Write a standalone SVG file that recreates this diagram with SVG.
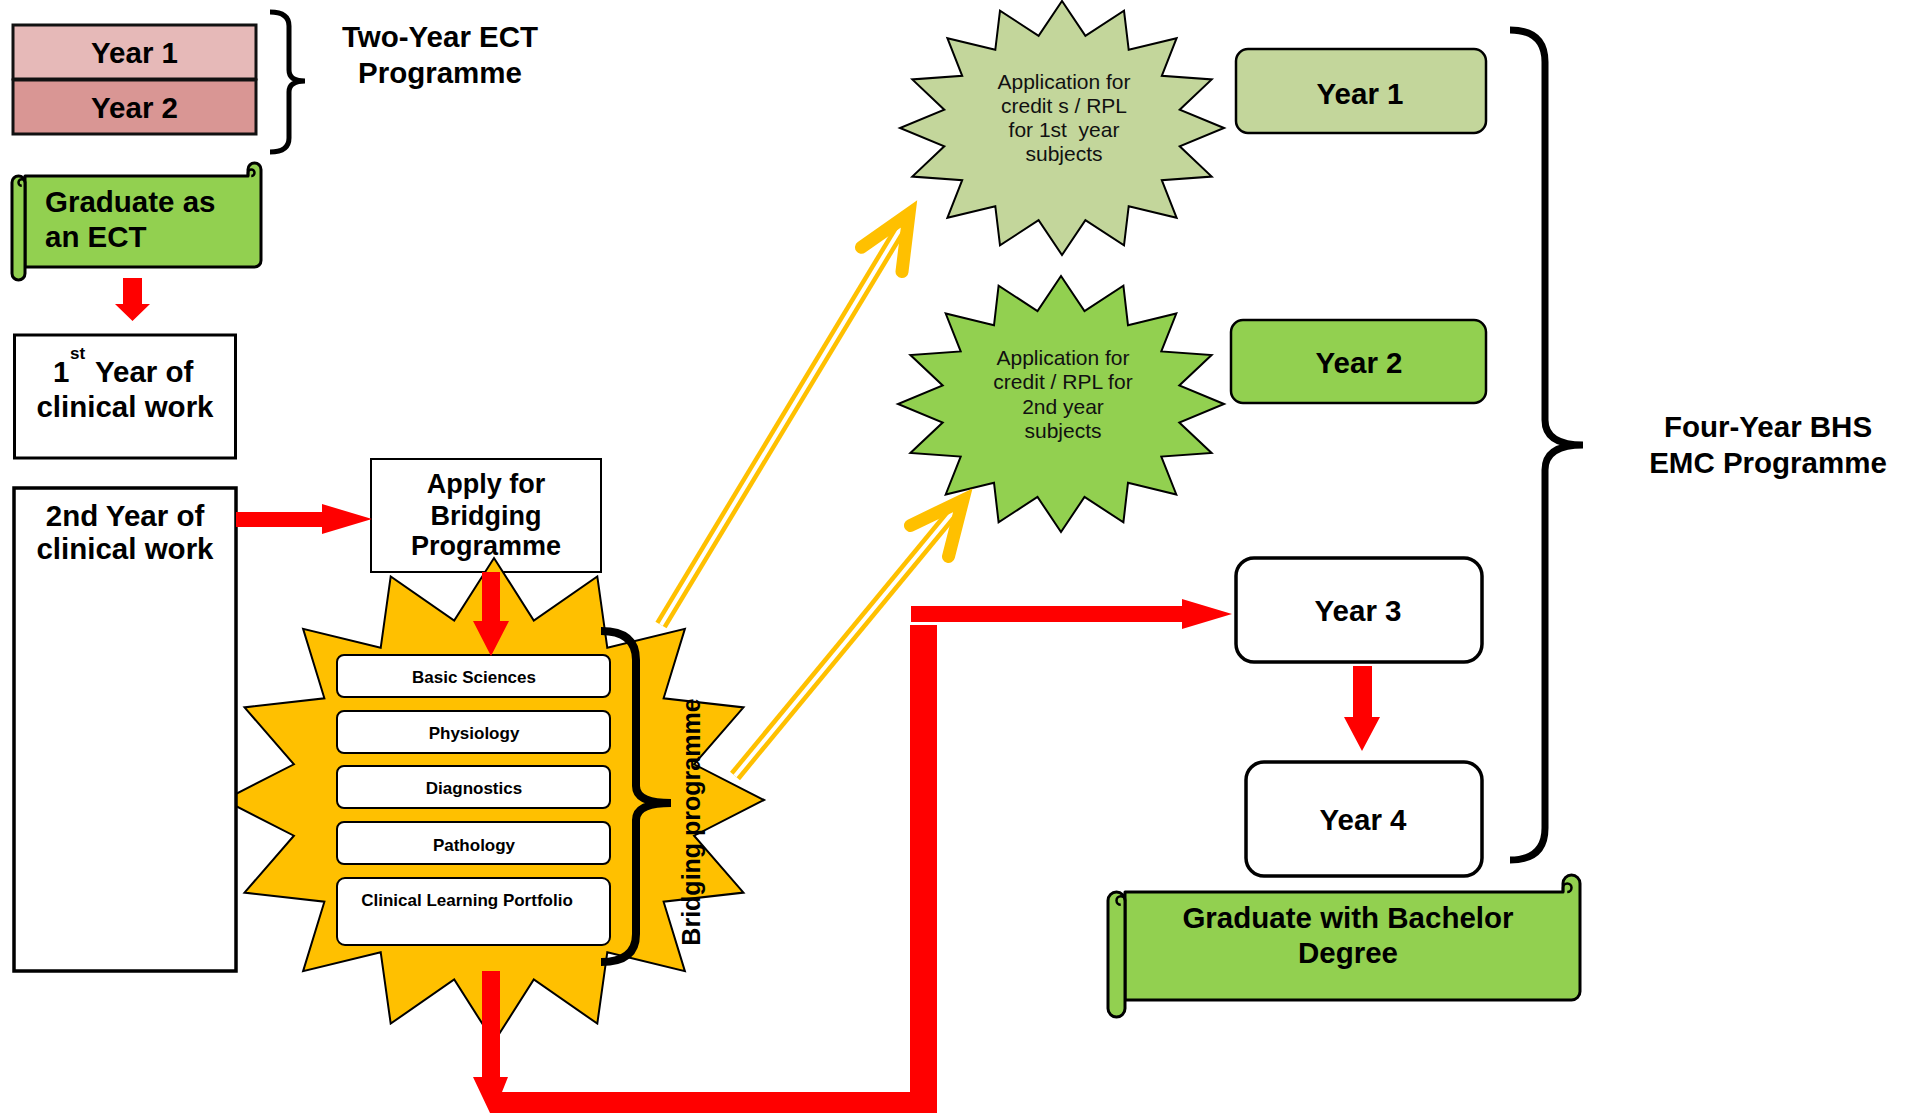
<svg xmlns="http://www.w3.org/2000/svg" width="1910" height="1115" viewBox="0 0 1910 1115">
  <style>
    .t { font-family: "Liberation Sans", Arial, sans-serif; font-weight: bold; fill: #000; }
    .big { font-size: 29.5px; }
    .mid { font-size: 27px; }
    .sm { font-size: 17px; }
    .reg { font-family: "Liberation Sans", Arial, sans-serif; font-weight: normal; font-size: 21px; fill: #111; }
    .c { text-anchor: middle; }
    .box { fill: #fff; stroke: #000; }
    .sub { fill: #fff; stroke: #000; stroke-width: 2; }
    .brace { fill: none; stroke: #000; stroke-linecap: butt; }
    .scroll { fill: #92D050; stroke: #000; stroke-width: 3; stroke-linejoin: round; }
    .curl { fill: none; stroke: #000; stroke-width: 2.5; }
    .red { fill: #FF0000; }
    .dbl { stroke: #FFC000; stroke-width: 13; fill: none; }
    .gap { stroke: #fff; stroke-width: 4; fill: none; }
    .head { stroke: #FFC000; stroke-width: 13; fill: none; stroke-linecap: round; stroke-linejoin: miter; }
    .star { stroke: #000; stroke-width: 2; stroke-linejoin: miter; }
  </style>

  <!-- Two-year ECT programme -->
  <g id="ect-year1">
    <rect x="13" y="25" width="243" height="54" fill="#E6B9B8" stroke="#111" stroke-width="3"/>
    <text class="t big c" x="134.5" y="63">Year 1</text>
  </g>
  <g id="ect-year2">
    <rect x="13" y="80" width="243" height="54" fill="#D99694" stroke="#111" stroke-width="3"/>
    <text class="t big c" x="134.5" y="118">Year 2</text>
  </g>
  <g id="ect-brace">
    <path class="brace" stroke-width="5" d="M 270,12 Q 289,12 289,26 V 70 Q 289,81 305,81 Q 289,81 289,92 V 138 Q 289,152 270,152"/>
    <text class="t big c" x="440" y="47">Two-Year ECT</text>
    <text class="t big c" x="440" y="83">Programme</text>
  </g>

  <g id="graduate-ect">
    <path class="scroll" d="M 25,176 H 248 V 169.5 A 6.5 6.5 0 0 1 261,169.5 V 260.5 A 6.5 6.5 0 0 1 254.5,267 H 25 Z"/>
    <path class="curl" d="M 248,176 V 172.75 A 3.25 3.25 0 0 1 254.5,172.75 A 3.25 3.25 0 0 1 251.25,176"/>
    <path class="scroll" d="M 12,182.5 V 273.5 A 6.5 6.5 0 0 0 25,273.5 V 182.5 A 6.5 6.5 0 0 0 12,182.5 Z"/>
    <path class="curl" d="M 25,182.5 A 3.25 3.25 0 0 0 18.5,182.5 A 3.25 3.25 0 0 0 21.75,185.75"/>
    <text class="t big" x="45" y="212">Graduate as</text>
    <text class="t big" x="45" y="247">an ECT</text>
  </g>

  <g id="clinical-year1">
    <rect class="box" x="14.5" y="335" width="221" height="123" stroke-width="3"/>
    <text class="t big" x="53" y="382">1</text>
    <text class="t" font-size="17" x="70" y="359">st</text>
    <text class="t big" x="95" y="382">Year of</text>
    <text class="t big c" x="125" y="417">clinical work</text>
  </g>

  <g id="apply-bridging">
    <rect class="box" x="371" y="459" width="230" height="113" stroke-width="2"/>
    <text class="t mid c" x="486" y="493">Apply for</text>
    <text class="t mid c" x="486" y="525">Bridging</text>
    <text class="t mid c" x="486" y="555">Programme</text>
  </g>

  <!-- Bridging programme burst with its modules -->
  <g id="bridging-programme">
    <polygon class="star" fill="#FFC000" points="764,800 694.1,764.3 743.5,707.4 663.6,698.3 684.9,628.9 607.3,647.8 597.3,576.4 533.8,620.5 494,558 454.2,620.5 390.7,576.4 380.7,647.8 303.1,628.9 324.4,698.3 244.5,707.4 293.9,764.3 224,800 293.9,835.7 244.5,892.6 324.4,901.7 303.1,971.1 380.7,952.2 390.7,1023.6 454.2,979.5 494,1042 533.8,979.5 597.3,1023.6 607.3,952.2 684.9,971.1 663.6,901.7 743.5,892.6 694.1,835.7"/>
    <g id="module-basic-sciences">
      <rect class="sub" x="337" y="655" width="273" height="42" rx="7"/>
      <text class="t sm c" x="474" y="683">Basic Sciences</text>
    </g>
    <g id="module-physiology">
      <rect class="sub" x="337" y="711" width="273" height="42" rx="7"/>
      <text class="t sm c" x="474" y="739">Physiology</text>
    </g>
    <g id="module-diagnostics">
      <rect class="sub" x="337" y="766" width="273" height="42" rx="7"/>
      <text class="t sm c" x="474" y="794">Diagnostics</text>
    </g>
    <g id="module-pathology">
      <rect class="sub" x="337" y="822" width="273" height="42" rx="7"/>
      <text class="t sm c" x="474" y="851">Pathology</text>
    </g>
    <g id="module-portfolio">
      <rect class="sub" x="337" y="878" width="273" height="67" rx="8"/>
      <text class="t sm c" x="467" y="906">Clinical Learning Portfolio</text>
    </g>
    <path class="brace" stroke-width="8" d="M 601,631 Q 636,631 636,660 V 786 Q 636,803 671,803 Q 636,803 636,820 V 934 Q 636,962 601,962"/>
    <text class="t c" font-size="25" transform="translate(700,822) rotate(-90)">Bridging programme</text>
  </g>

  <g id="clinical-year2">
    <rect class="box" x="14" y="488" width="222" height="483" stroke-width="3.5"/>
    <text class="t big c" x="125" y="526">2nd Year of</text>
    <text class="t big c" x="125" y="559">clinical work</text>
  </g>

  <!-- Credit / RPL applications -->
  <g id="rpl-year1">
    <polygon class="star" fill="#C3D69B" points="1224,128 1179.7,109.7 1211.7,79.4 1161.8,75.8 1176.6,38.2 1128.7,49.8 1124,10.7 1085.4,35.8 1062,1 1038.6,35.8 1000,10.7 995.3,49.8 947.4,38.2 962.2,75.8 912.3,79.4 944.3,109.7 900,128 944.3,146.3 912.3,176.6 962.2,180.2 947.4,217.8 995.3,206.2 1000,245.3 1038.6,220.2 1062,255 1085.4,220.2 1124,245.3 1128.7,206.2 1176.6,217.8 1161.8,180.2 1211.7,176.6 1179.7,146.3"/>
    <text class="reg c" x="1064" y="89">Application for</text>
    <text class="reg c" x="1064" y="113">credit s / RPL</text>
    <text class="reg c" x="1064" y="137" xml:space="preserve">for 1st  year</text>
    <text class="reg c" x="1064" y="161">subjects</text>
  </g>
  <g id="rpl-year2">
    <polygon class="star" fill="#92D050" points="1224,404 1179.3,385.5 1211.6,355 1161.3,351.4 1176.3,313.5 1128,325.3 1123.4,285.7 1084.5,311.1 1061,276 1037.5,311.1 998.6,285.7 994,325.3 945.7,313.5 960.7,351.4 910.4,355 942.7,385.5 898,404 942.7,422.5 910.4,453 960.7,456.6 945.7,494.5 994,482.7 998.6,522.3 1037.5,496.9 1061,532 1084.5,496.9 1123.4,522.3 1128,482.7 1176.3,494.5 1161.3,456.6 1211.6,453 1179.3,422.5"/>
    <text class="reg c" x="1063" y="365">Application for</text>
    <text class="reg c" x="1063" y="389">credit / RPL for</text>
    <text class="reg c" x="1063" y="414">2nd year</text>
    <text class="reg c" x="1063" y="438">subjects</text>
  </g>

  <!-- Four-year BHS EMC programme -->
  <g id="bhs-year1">
    <rect x="1236" y="49" width="250" height="84" rx="12" fill="#C3D69B" stroke="#000" stroke-width="2.5"/>
    <text class="t big c" x="1360" y="104">Year 1</text>
  </g>
  <g id="bhs-year2">
    <rect x="1231" y="320" width="255" height="83" rx="12" fill="#92D050" stroke="#000" stroke-width="2.5"/>
    <text class="t big c" x="1359" y="373">Year 2</text>
  </g>
  <g id="bhs-year3">
    <rect class="box" x="1236" y="558" width="246" height="104" rx="18" stroke-width="3.5"/>
    <text class="t big c" x="1358" y="621">Year 3</text>
  </g>
  <g id="bhs-year4">
    <rect class="box" x="1246" y="762" width="236" height="114" rx="18" stroke-width="3.5"/>
    <text class="t big c" x="1363" y="830">Year 4</text>
  </g>
  <g id="bhs-brace">
    <path class="brace" stroke-width="7" d="M 1510,30 Q 1545,30 1545,62 V 420 Q 1545,445 1583,445 Q 1545,445 1545,470 V 828 Q 1545,860 1510,860"/>
    <text class="t big c" x="1768" y="437">Four-Year BHS</text>
    <text class="t big c" x="1768" y="473">EMC Programme</text>
  </g>

  <g id="graduate-bachelor">
    <path class="scroll" d="M 1125,892 H 1563 V 883.5 A 8.5 8.5 0 0 1 1580,883.5 V 991.5 A 8.5 8.5 0 0 1 1571.5,1000 H 1125 Z"/>
    <path class="curl" d="M 1563,892 V 887.75 A 4.25 4.25 0 0 1 1571.5,887.75 A 4.25 4.25 0 0 1 1567.25,892"/>
    <path class="scroll" d="M 1108,900.5 V 1008.5 A 8.5 8.5 0 0 0 1125,1008.5 V 900.5 A 8.5 8.5 0 0 0 1108,900.5 Z"/>
    <path class="curl" d="M 1125,900.5 A 4.25 4.25 0 0 0 1116.5,900.5 A 4.25 4.25 0 0 0 1120.75,904.75"/>
    <text class="t big c" x="1348" y="928">Graduate with Bachelor</text>
    <text class="t big c" x="1348" y="963">Degree</text>
  </g>

  <!-- Connectors -->
  <g id="connectors">
    <polygon class="red" points="123,278 142,278 142,304 150,304 132.5,321 115,304 123,304"/>
    <polygon class="red" points="236,512 322,512 322,504 372,519 322,534 322,527 236,527"/>
    <polygon class="red" points="482,572 500,572 500,621 509,621 491,656 473,621 482,621"/>
    <polygon class="red" points="482,971 500,971 500,1077 508,1077 502,1092 910,1092 910,625 937,625 937,1113 490,1113 473,1077 482,1077"/>
    <polygon class="red" points="911,606 1182,606 1182,599 1232,614 1182,629 1182,622 911,622"/>
    <polygon class="red" points="1353,666 1372,666 1372,717 1380,717 1362,751 1344,717 1353,717"/>

    <g id="credit-arrow-1">
      <line class="dbl" x1="661" y1="625" x2="905" y2="221"/>
      <line class="gap" x1="661" y1="625" x2="905" y2="221"/>
      <polyline class="head" points="861.5,247.3 909,214 902,271.6"/>
    </g>
    <g id="credit-arrow-2">
      <line class="dbl" x1="735" y1="776" x2="958" y2="506"/>
      <line class="gap" x1="735" y1="776" x2="958" y2="506"/>
      <polyline class="head" points="910.5,525.5 962.8,500.3 948.5,556.5"/>
    </g>
  </g>
</svg>
